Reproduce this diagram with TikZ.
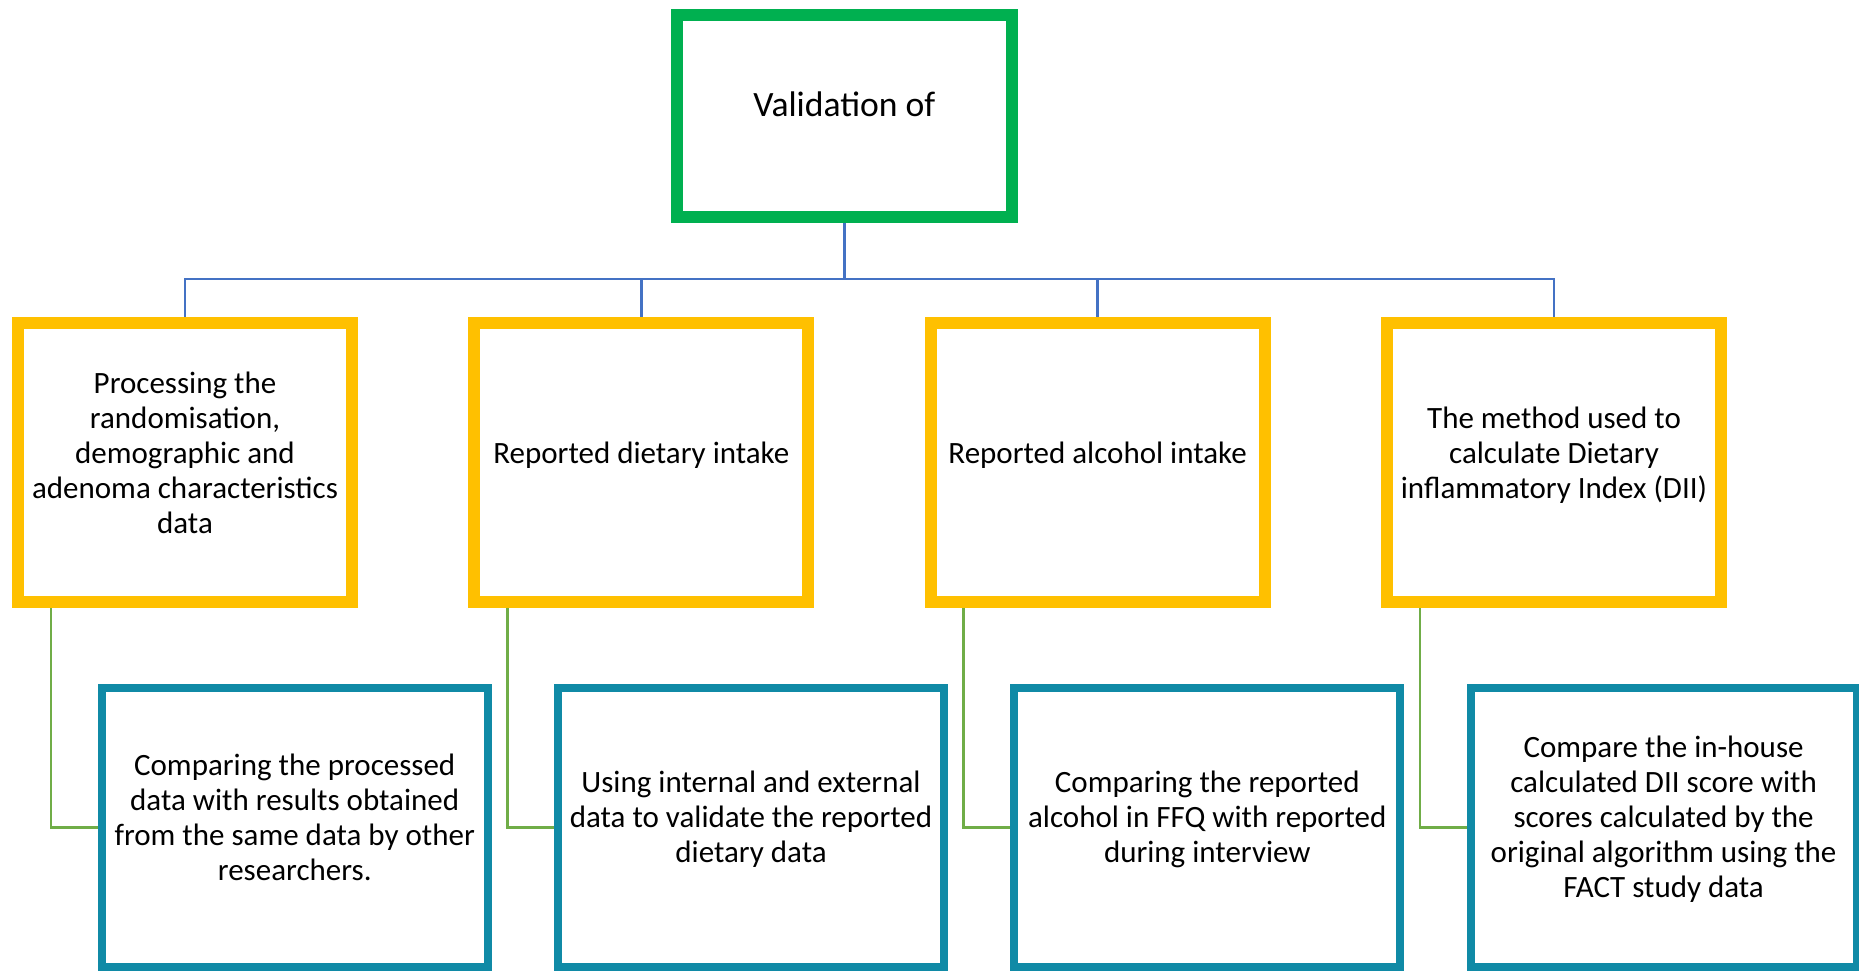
\documentclass[tikz,border=0pt]{standalone}
\usepackage{fontspec}
\setmainfont{Carlito}
\definecolor{boxgreen}{HTML}{00B050}
\definecolor{boxyellow}{HTML}{FFC000}
\definecolor{boxteal}{HTML}{108AA6}
\definecolor{busblue}{HTML}{4472C4}
\definecolor{linkgreen}{HTML}{70AD47}
\begin{document}
\begin{tikzpicture}[x=0.5pt,y=-0.5pt,
  topbox/.style={draw=boxgreen,fill=white,line width=6pt,minimum width=167.3pt,minimum height=100.9pt,inner sep=0pt},
  catbox/.style={draw=boxyellow,fill=white,line width=6pt,minimum width=167pt,minimum height=139.5pt,inner sep=0pt},
  taskbox/.style={draw=boxteal,fill=white,line width=4pt,minimum width=193pt,minimum height=139.5pt,inner sep=0pt},
  bodytext/.style={font=\fontsize{15.5pt}{17.5pt}\selectfont,align=center,inner sep=0pt},
  titletext/.style={font=\fontsize{17.8pt}{19.6pt}\selectfont,align=center,inner sep=0pt},
  bus/.style={draw=busblue,line width=1.25pt},
  link/.style={draw=linkgreen,line width=1.25pt}]

% canvas
\fill[white] (0,0) rectangle (1859,970);
\useasboundingbox (0,0) rectangle (1859,970);

% boxes
\node[topbox] (top) at (844.3,115.8) {};
\node[catbox] (y1) at (185,462.5) {};
\node[catbox] (y2) at (641.3,462.5) {};
\node[catbox] (y3) at (1097.6,462.5) {};
\node[catbox] (y4) at (1554,462.5) {};
\node[taskbox] (t1) at (294.7,827.5) {};
\node[taskbox] (t2) at (751,827.5) {};
\node[taskbox] (t3) at (1207.3,827.5) {};
\node[taskbox] (t4) at (1663.6,827.5) {};

% tree connectors
\coordinate (bus) at (844.3,279);
\draw[bus] (top.south) -- (bus);
\foreach \k in {1,2,3,4} {
  \draw[bus] (bus) -| (y\k.north);
  \draw[link] ([xshift=-67pt]y\k.south) |- (t\k.west);
}

% texts
\node[titletext] (topt) at ([yshift=3.45pt]top.center) {\strut Validation of};

\node[bodytext] (y1t) at ([yshift=3.25pt]y1.center)
  {\strut Processing the\\\strut randomisation,\\\strut demographic and\\\strut adenoma characteristics\\\strut data};
\node[bodytext] (y2t) at ([yshift=3.25pt]y2.center) {\strut Reported dietary intake};
\node[bodytext] (y3t) at ([yshift=3.25pt]y3.center) {\strut Reported alcohol intake};
\node[bodytext] (y4t) at ([yshift=3.25pt]y4.center)
  {\strut The method used to\\\strut calculate Dietary\\\strut inflammatory Index (DII)};

\node[bodytext] (t1t) at ([yshift=3.5pt]t1.center)
  {\strut Comparing the processed\\\strut data with results obtained\\\strut from the same data by other\\\strut researchers.};
\node[bodytext] (t2t) at ([yshift=3.5pt]t2.center)
  {\strut Using internal and external\\\strut data to validate the reported\\\strut dietary data};
\node[bodytext] (t3t) at ([yshift=3.5pt]t3.center)
  {\strut Comparing the reported\\\strut alcohol in FFQ with reported\\\strut during interview};
\node[bodytext] (t4t) at ([yshift=3.5pt]t4.center)
  {\strut Compare the in-house\\\strut calculated DII score with\\\strut scores calculated by the\\\strut original algorithm using the\\\strut FACT study data};
\end{tikzpicture}
\end{document}
